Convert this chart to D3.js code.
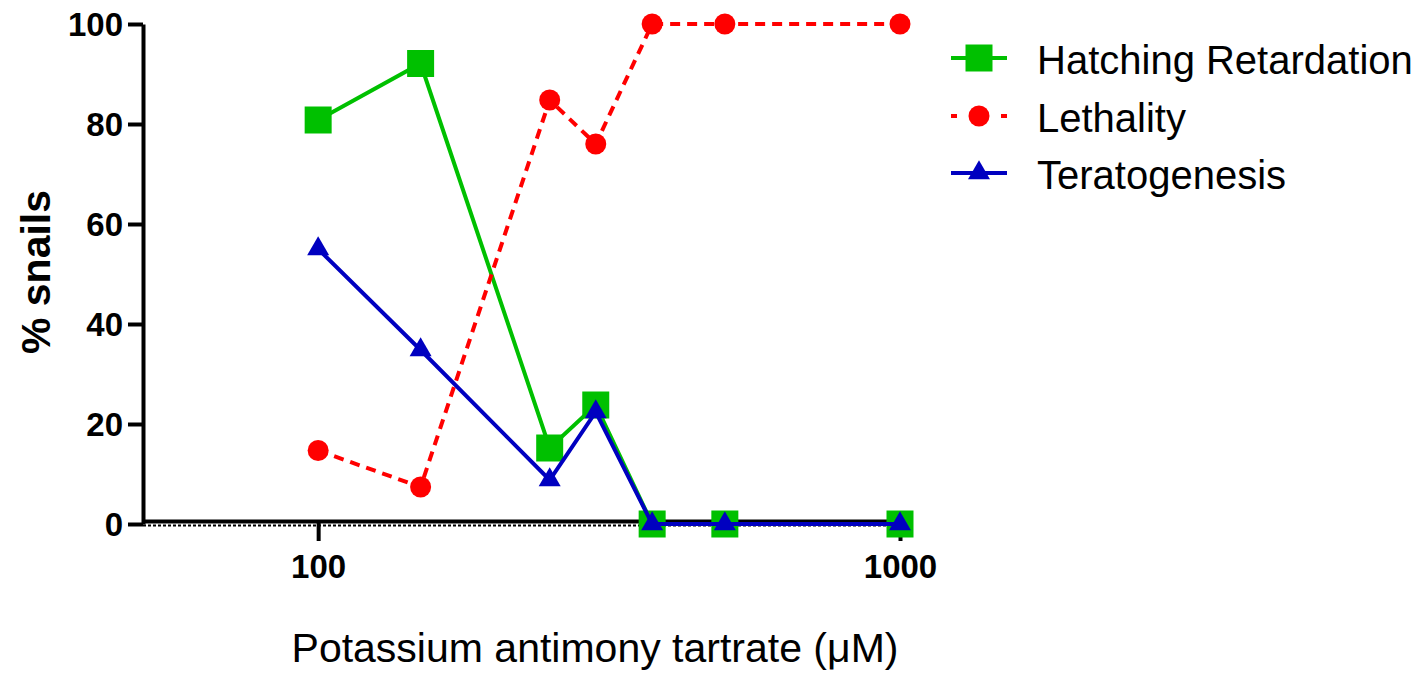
<!DOCTYPE html>
<html>
<head>
<meta charset="utf-8">
<script src="https://cdn.jsdelivr.net/npm/d3@7"></script>
<style>
  html, body { margin: 0; padding: 0; background: #fff; }
  svg { display: block; }
</style>
</head>
<body>
<svg id="chart" width="1424" height="674"></svg>
<script>
// ---- data ----
const concentrations = [100, 150, 250, 300, 375, 500, 1000];
const hatching = [80.8, 92.1, 15.2, 23.8, 0, 0, 0];
const lethality = [14.7, 7.4, 84.8, 76, 100, 100, 100];
const teratogenesis = [55, 34.8, 8.8, 22.4, 0, 0, 0];
const yTicks = [0, 20, 40, 60, 80, 100];
const xTicks = [100, 1000];
const seriesNames = ["Hatching Retardation", "Lethality", "Teratogenesis"];

const svg = d3.select("#chart");
const x = d3.scaleLog().domain([50, 1000]).range([143, 900]);
const y = d3.scaleLinear().domain([0, 100]).range([524, 24]);

const series = [
  { name: seriesNames[0], values: hatching, color: "#00C000", dash: null, width: 4, symbol: d3.symbolSquare, size: 27 * 27 },
  { name: seriesNames[1], values: lethality, color: "#FF0000", dash: "10,7", width: 4, symbol: d3.symbolCircle, size: Math.PI * 10.5 * 10.5 },
  { name: seriesNames[2], values: teratogenesis, color: "#0000C0", dash: null, width: 4, symbol: d3.symbolTriangle, size: 210 }
];

// dotted zero line
svg.append("line")
  .attr("x1", x(50)).attr("x2", x(1000))
  .attr("y1", y(0) + 1.5).attr("y2", y(0) + 1.5)
  .attr("stroke", "#000").attr("stroke-width", 2).attr("stroke-dasharray", "3,2");

// y axis
const yAxis = d3.axisLeft(y).tickValues(yTicks).tickSize(15).tickSizeOuter(0).tickPadding(5);
const gy = svg.append("g").attr("transform", `translate(${x(50)},0)`).call(yAxis);
gy.select(".domain").attr("stroke", "#000").attr("stroke-width", 4);
gy.selectAll(".tick line").attr("stroke", "#000").attr("stroke-width", 4);
gy.selectAll(".tick text")
  .attr("font-family", "Liberation Sans, Arial, sans-serif")
  .attr("font-weight", "bold").attr("font-size", 33).attr("fill", "#000")
  .attr("dy", "0.35em");

// x axis (slightly above zero, as in original)
const xAxis = d3.axisBottom(x).tickValues(xTicks).tickFormat(d3.format("d")).tickSize(20).tickSizeOuter(0).tickPadding(14);
const gx = svg.append("g").attr("transform", `translate(0,${y(0) - 3})`).call(xAxis);
gx.select(".domain").attr("stroke", "#000").attr("stroke-width", 4);
gx.selectAll(".tick line").attr("stroke", "#000").attr("stroke-width", 4);
gx.selectAll(".tick text")
  .attr("font-family", "Liberation Sans, Arial, sans-serif")
  .attr("font-weight", "bold").attr("font-size", 33).attr("fill", "#000");

// series lines and markers
const line = d3.line().x((d, i) => x(concentrations[i])).y(d => y(d));
series.forEach(s => {
  const g = svg.append("g");
  g.append("path")
    .datum(s.values)
    .attr("d", line)
    .attr("fill", "none")
    .attr("stroke", s.color)
    .attr("stroke-width", s.width)
    .attr("stroke-dasharray", s.dash);
  g.selectAll("path.m")
    .data(s.values)
    .join("path")
    .attr("class", "m")
    .attr("transform", (d, i) => `translate(${x(concentrations[i])},${y(d)})`)
    .attr("d", d3.symbol().type(s.symbol).size(s.size))
    .attr("fill", s.color);
});

// axis titles
svg.append("text")
  .attr("transform", "translate(50,272) rotate(-90)")
  .attr("text-anchor", "middle")
  .attr("font-family", "Liberation Sans, Arial, sans-serif")
  .attr("font-weight", "bold").attr("font-size", 41)
  .text("% snails");

svg.append("text")
  .attr("x", 595).attr("y", 662)
  .attr("text-anchor", "middle")
  .attr("font-family", "Liberation Sans, Arial, sans-serif")
  .attr("font-size", 41)
  .text("Potassium antimony tartrate (\u03BCM)");

// legend
const legendY = [58, 116, 173];
const lg = svg.append("g");
series.forEach((s, i) => {
  const row = lg.append("g").attr("transform", `translate(0,${legendY[i]})`);
  row.append("line")
    .attr("x1", 951).attr("x2", 1007).attr("y1", 0).attr("y2", 0)
    .attr("stroke", s.color).attr("stroke-width", 4)
    .attr("stroke-dasharray", s.dash ? "6,12,20,12,6" : null);
  row.append("path")
    .attr("transform", "translate(979,0)")
    .attr("d", d3.symbol().type(s.symbol).size(s.size))
    .attr("fill", s.color);
  row.append("text")
    .attr("x", 1037).attr("y", 2).attr("dy", "0.35em")
    .attr("font-family", "Liberation Sans, Arial, sans-serif")
    .attr("font-size", 40)
    .text(s.name);
});
</script>
</body>
</html>
